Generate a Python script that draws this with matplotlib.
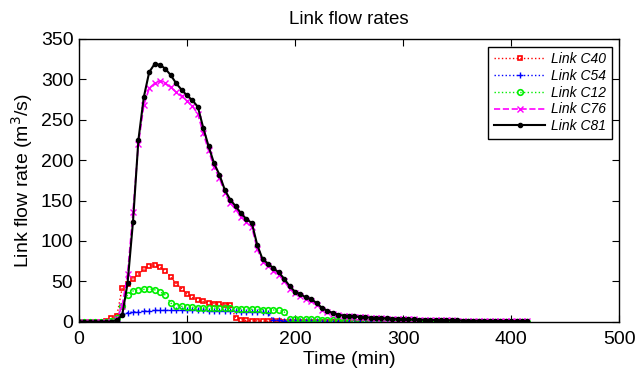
#!/usr/bin/env python3
# Link flow rates for five links, sampled every 5 minutes

import numpy as np
import matplotlib
matplotlib.use('Agg')
import matplotlib.pyplot as plt

plt.rcParams['font.family'] = ['Liberation Sans', 'DejaVu Sans']

# time samples (min)
time_min = np.arange(0, 420, 5)

# flow rates (m^3/s), 10 samples per row
flow_c40 = [
    0, 0, 0, 0, 0, 1, 4, 7, 42, 47,
    53, 59, 65, 69, 70, 68, 63, 55, 47, 41,
    34, 30, 27, 25, 23.5, 22.5, 21.5, 21, 20.5, 5,
    2.5, 1.5, 1, 1, 0.8, 0.5, 0.4, 0.3, 0.2, 0.2,
    0.1, 0.1, 0.1, 0.1, 0.1, 0.1, 0.1, 0.1, 0, 0,
    0, 0, 0, 0, 0, 0, 0, 0, 0, 0,
    0, 0, 0, 0, 0, 0, 0, 0, 0, 0,
    0, 0, 0, 0, 0, 0, 0, 0, 0, 0,
    0, 0, 0, 0,
]
flow_c54 = [
    0, 0, 0, 0, 0, 0, 0, 1, 10, 11,
    12, 12.5, 13, 13.5, 14, 14, 14, 14, 14, 14,
    14, 14, 14, 14, 13.5, 13.5, 13.5, 13, 13, 13,
    12.5, 12.5, 12, 12, 11.5, 11, 2, 1.5, 1.2, 1,
    0.8, 0.6, 0.5, 0.4, 0.3, 0.2, 0.1, 0.1, 0, 0,
    0, 0, 0, 0, 0, 0, 0, 0, 0, 0,
    0, 0, 0, 0, 0, 0, 0, 0, 0, 0,
    0, 0, 0, 0, 0, 0, 0, 0, 0, 0,
    0, 0, 0, 0,
]
flow_c12 = [
    0, 0, 0, 0, 0, 0, 1, 5, 20, 33,
    38, 39.5, 40, 40.5, 39.5, 37, 33, 23, 20, 19,
    18.5, 18, 17.5, 17, 17, 17, 17, 17, 16.5, 16,
    16, 16, 15.5, 15.5, 15, 15, 14.5, 14, 12, 3.8,
    3.6, 3.4, 3.2, 3, 2.8, 2.5, 2, 1.6, 1.2, 1,
    0.9, 0.8, 0.7, 0.6, 0.5, 0.5, 0.4, 0.4, 0.3, 0.3,
    0.3, 0.3, 0.2, 0.2, 0.2, 0.2, 0.2, 0.1, 0.1, 0.1,
    0.1, 0.1, 0.1, 0.1, 0.1, 0.1, 0.1, 0.1, 0.1, 0.1,
    0, 0, 0, 0,
]
flow_c76 = [
    0, 0, 0, 0, 0, 0, 0, 3, 20, 59,
    136, 220, 268, 289, 295, 298, 295, 290, 284, 279,
    273, 267, 257, 233, 212, 191, 178, 159, 147, 139,
    130, 124, 117, 90, 74, 69, 63, 58, 50, 41,
    35, 32, 28, 26, 21, 15, 12, 9.5, 8, 7,
    6.6, 6.2, 5.7, 5.2, 4.8, 4.5, 4.2, 3.9, 3.6, 3.3,
    3.1, 2.9, 2.7, 2.5, 2.3, 2.1, 1.9, 1.8, 1.6, 1.5,
    1.4, 1.3, 1.2, 1.1, 1, 0.9, 0.8, 0.8, 0.7, 0.7,
    0.6, 0.6, 0.5, 0.5,
]
flow_c81 = [
    0, 0, 0, 0, 0, 0, 0, 2, 8, 48,
    124, 225, 278, 309, 319, 318, 313, 305, 295, 287,
    280, 274, 266, 240, 217, 196, 182, 163, 151, 143,
    134, 127, 122, 95, 77, 72, 66, 61, 53, 44,
    37, 34, 30, 28, 23, 17, 13.5, 10.7, 8.6, 7.5,
    7, 6.5, 6, 5.5, 5, 4.7, 4.4, 4.1, 3.8, 3.5,
    3.2, 3, 2.8, 2.6, 2.4, 2.2, 2, 1.9, 1.7, 1.6,
    1.5, 1.4, 1.3, 1.2, 1.1, 1, 0.9, 0.8, 0.8, 0.7,
    0.7, 0.6, 0.6, 0.5,
]

fig = plt.figure(figsize=(6.37, 3.78), dpi=100)
ax = fig.add_axes([0.124, 0.149, 0.848, 0.748])

ax.plot(time_min, flow_c40, ':', color='#ff0000', lw=1, marker='s', ms=3.5,
        mfc='none', mew=1.2, label='Link C40')
ax.plot(time_min, flow_c54, ':', color='#0000ff', lw=1, marker='+', ms=4,
        mew=1, label='Link C54')
ax.plot(time_min, flow_c12, ':', color='#00ee00', lw=1, marker='o', ms=4,
        mfc='none', mew=1.2, label='Link C12')
ax.plot(time_min, flow_c76, '--', color='#ff00ff', lw=1.2, marker='x', ms=4.5,
        mew=1, label='Link C76')
ax.plot(time_min, flow_c81, '-', color='black', lw=1.5, marker='.', ms=6,
        label='Link C81')

ax.set_xlim(0, 500)
ax.set_ylim(0, 350)
ax.set_xticks(range(0, 501, 100))
ax.set_yticks(range(0, 351, 50))
ax.tick_params(direction='in', top=True, right=True, length=5, labelsize=14)
ax.tick_params(axis='x', pad=7)
ax.tick_params(axis='y', pad=4)
for s in ax.spines.values():
    s.set_linewidth(1)

ax.set_title('Link flow rates', fontsize=13.5, pad=11)
ax.set_xlabel('Time (min)', fontsize=14, labelpad=2)
ax.set_ylabel('Link flow rate (m$^3$/s)', fontsize=14, labelpad=4)

leg = ax.legend(loc='upper right', prop={'style': 'italic', 'size': 10},
                fancybox=False, framealpha=1, edgecolor='black', handlelength=3.7,
                handletextpad=0.4, borderaxespad=0.55, labelspacing=0.2,
                borderpad=0.4)
leg.get_frame().set_linewidth(1)

fig.savefig('out.png', dpi=100)
